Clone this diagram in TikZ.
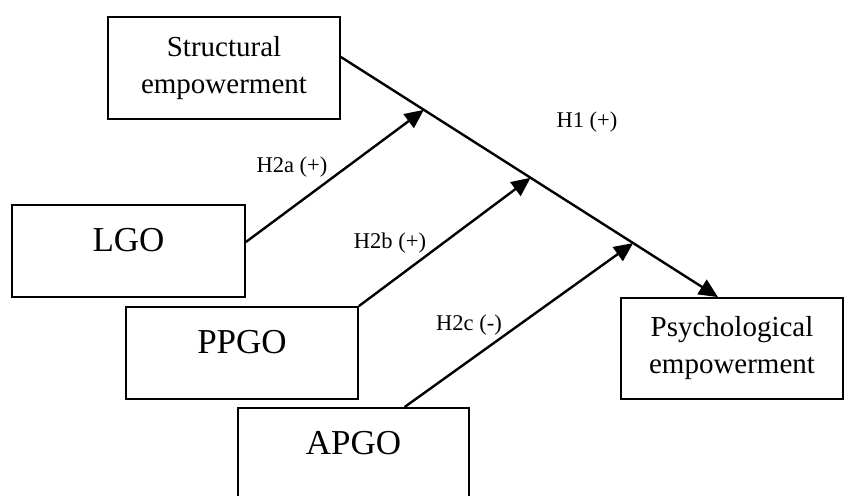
\documentclass[tikz,border=0pt]{standalone}
\usepackage{fontspec}
\setmainfont{Liberation Serif}
\usetikzlibrary{calc,arrows.meta}
\tikzset{
	empbox/.style={draw, line width=1.8pt, align=center, inner sep=0pt, minimum width=232pt, minimum height=102pt, font=\fontsize{29}{37}\selectfont},
	goalbox/.style={draw, line width=1.8pt, inner sep=0pt, minimum width=232pt, text height=46pt, text depth=46pt, font=\fontsize{35}{40}\selectfont},
	hlabel/.style={inner sep=1pt, font=\fontsize{22.5}{26}\selectfont},
	hyparrow/.style={line width=2.4pt, -{Triangle[length=19pt,width=17pt]}}
}

\begin{document}
\begin{tikzpicture}[x=1pt, y=-1pt]
			%%%%% START %%%%%
			
			\clip (0, 0) rectangle (845, 495);
			
			\node[empbox] (struct) at (224, 68) {Structural\\empowerment};
			\node[empbox, minimum width=222pt, minimum height=101pt] (psych) at (732, 348.5) {Psychological\\empowerment};
			
			\node[goalbox, minimum width=233pt] (lgo) at (128.5, 251) {LGO};
			\node[goalbox] (ppgo) at (242, 353) {PPGO};
			\node[goalbox, minimum width=231pt] (apgo) at (353.5, 454) {APGO};
			
			\coordinate (h1s) at ([yshift=11pt]struct.east);
			\coordinate (h1e) at ([xshift=-14pt]psych.north);
			\draw[hyparrow] (h1s) -- (h1e);
			
			\coordinate (h2a) at ($(h1s)!0.22!(h1e)$);
			\coordinate (h2b) at ($(h1s)!0.503!(h1e)$);
			\coordinate (h2c) at ($(h1s)!0.775!(h1e)$);
			
			\draw[hyparrow] ([yshift=9pt]lgo.east) -- (h2a);
			\draw[hyparrow] (ppgo.north east) -- (h2b);
			\draw[hyparrow] ([xshift=51pt]apgo.north) -- (h2c);
			
			\node[hlabel] (lh1) at (587, 122) {H1 (+)};
			\node[hlabel] (lh2a) at (292, 167) {H2a (+)};
			\node[hlabel] (lh2b) at (390, 243) {H2b (+)};
			\node[hlabel] (lh2c) at (469, 325) {H2c (-)};
			
			%%%%% END %%%%%
\end{tikzpicture}
\end{document}
